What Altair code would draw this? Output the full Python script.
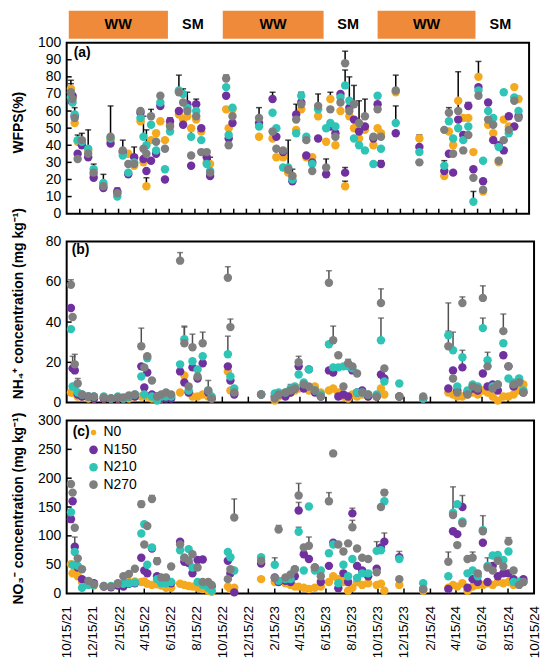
import altair as alt
import pandas as pd

FONT = "Liberation Sans"

dates = ["2021-10-25","2021-10-29","2021-11-03","2021-11-10","2021-11-20","2021-12-05","2021-12-18",
         "2022-01-10","2022-01-27","2022-02-12","2022-02-25","2022-03-10","2022-03-24","2022-04-08",
         "2022-04-15","2022-04-22","2022-05-03","2022-05-15","2022-05-25","2022-06-05","2022-06-17",
         "2022-07-08","2022-07-18","2022-07-28","2022-08-06","2022-08-18","2022-08-30","2022-09-12",
         "2022-09-20","2022-10-28","2022-11-03","2022-11-12","2023-01-14","2023-02-15","2023-02-24",
         "2023-03-12","2023-03-24","2023-04-03","2023-04-12","2023-04-24","2023-05-06","2023-05-20",
         "2023-06-03","2023-06-22","2023-07-02","2023-07-14","2023-07-26","2023-08-06","2023-08-16",
         "2023-08-27","2023-09-08","2023-09-22","2023-10-12","2023-10-22","2023-10-30","2023-12-04",
         "2024-01-29","2024-03-28","2024-04-08","2024-04-18","2024-04-30","2024-05-12","2024-05-24",
         "2024-06-05","2024-06-17","2024-06-28","2024-07-10","2024-07-22","2024-08-04","2024-08-16",
         "2024-08-28","2024-09-10","2024-09-20"]

names = ["N0", "N150", "N210", "N270"]
colors = ["#F5A91E", "#7030A0", "#2EC4B6", "#7F7F7F"]

# ---- (a) WFPS (%) ----
a_n0 = [73,68,53,42,41,37,23, 17,43,12,36,35,28,54, 30,16,43,47,54,43,52, 58,55,57,50,55,48,30,
        29,61,50,61,45,44,33, 33,24,22,49,61,33,33, 57,42,67,40,60,16,57, 50,44,49,40,50,47,71,
        44,22,48,40,66,56,56, 36,80,13,52,47,30,55, 51,74,67]
a_n150 = [66,69,57,35,40,33,21, 15,41,13,36,23,33,59, 32,25,31,35,63,20,54, 60,52,64,28,64,50,33,
          22,69,44,53,53,67,45, 36,26,19,58,65,34,30, 44,23,51,47,70,24,62, 55,48,51,44,64,29,47,
          39,25,35,24,55,46,63, 26,74,19,65,43,40,37, 57,51,57]
a_n210 = [68,65,58,43,42,38,26, 18,44,10,34,24,30,56, 45,40,52,37,65,26,48, 72,70,62,45,60,43,29,
          25,74,46,62,51,59,50, 27,27,20,47,69,45,29, 61,50,53,51,68,75,66, 44,40,37,29,69,38,53,
          36,28,54,44,50,43,51, 7,72,31,60,56,39,71, 47,68,60]
a_n270 = [71,67,56,32,43,35,24, 16,45,12,37,29,29,60, 38,35,57,42,69,38,51, 71,65,60,34,57,36,36,
          24,79,40,57,56,48,38, 37,26,22,55,64,43,25, 63,27,61,45,65,88,60, 64,53,57,45,61,45,72,
          30,49,59,35,60,37,46, 21,69,14,55,52,31,43, 49,66,56]
a_e0 = [3,0,0,0,0,0,0, 0,0,0,0,0,0,0, 0,5,0,0,0,0,0, 0,0,0,0,0,0,3, 4,0,0,0,0,0,0, 0,19,0,0,0,0,0,
        0,0,4,0,0,3,0, 0,0,0,0,0,0,0, 2,0,0,0,0,0,0, 0,9,0,0,0,0,0, 0,0,0]
a_e150 = [0,0,0,0,0,0,0, 0,0,2,0,0,6,0, 0,0,0,0,0,0,0, 0,0,7,0,3,0,0, 0,0,0,0,0,4,0, 0,0,0,6,0,0,0,
          0,0,0,0,0,3,0, 0,0,0,0,0,2,0, 0,0,0,0,0,0,2, 0,0,0,0,0,0,0, 0,0,0]
a_e210 = [0,0,4,3,0,11,3, 0,0,0,0,0,0,0, 12,0,0,0,0,0,0, 9,3,0,5,0,0,0, 0,0,0,0,0,0,0, 0,0,0,0,2,0,0,
          0,0,0,0,0,9,14, 0,0,0,0,0,0,10, 0,3,0,0,0,0,0, 6,0,0,0,0,0,0, 0,0,0]
a_e270 = [7,0,0,0,4,0,0, 7,18,0,6,0,0,0, 0,14,4,0,0,0,5, 0,0,0,0,0,0,0, 0,2,0,3,6,0,0, 0,0,4,0,0,0,0,
          7,5,0,0,0,7,0, 11,13,10,0,0,0,9, 0,0,3,0,23,0,0, 0,0,0,0,0,0,0, 0,0,0]

# ---- (b) NH4+ (mg/kg) ----
b_n0 = [5,5,5,3,3,2,2, 2,2,2,2,2,3,3, 4,3,2,2,2,3,3, 5,13.5,5,3,3,4,3, 2,15.5,6,5,4,1,3,
        4,5,6,7,9,6,8, 5,6,7,5,3,2,4, 3,4,3,3,7,4,3, 2,5,4,3,3,4,5, 4,6,5,3,1,3,3, 4,6,9]
b_n150 = [47,17,16,4,3,3,2, 2,2,2,2,3,3,18, 7.5,15,4,3,2,2,2, 15.5,10,5,17.5,12,19.5,5, 2,18,11,4,4,3,4,
          3,5,7,18,7,16.5,5, 3,16,15,3,4,3,16, 5,6,3,3,14,12,3, 2,7,16,6,17.5,5,7, 6,14.5,8,9,6,23.5,18, 8,11,5]
b_n210 = [36.5,8,8,5,4,3,3, 3,2,3,2,3,4,13, 4,22,3,1,3,3,3, 19,31.5,6,20.5,16.5,23,6, 3,24,13,7,4,4.5,5,
          5,7,8,14,10,16.5,6, 4,29,17.5,17.5,18,18,17, 5,5,4,4,31,10.5,9.5, 2,33.5,26,8,22.5,6,9,
          8,37,21,8,9,29.5,12, 10,12,6]
b_n270 = [58.5,42.5,19,9.5,4,3,3, 2.5,2,2.5,2.5,3.5,4,28, 17.5,23,11,3,4,5,4, 70.5,29.5,8,27.5,13,29.5,6,
          2,62,37.5,5,4,2,4, 5,6,7,20,9,8,6, 3,59.5,31,23.5,8,19.5,18, 14.5,5,4,3,49.5,17,3,
          3,28,12,5,49.5,4,8, 7,52,18,7,9,35.5,18, 9,10,5]
b_e0 = [0,0,0,0,0,0,0, 0,0,0,0,0,0,0, 0,0,0,0,0,0,0, 0,0,0,0,0,0,0, 0,0,0,0,0,0,0, 0,0,0,0,0,0,0,
        0,0,0,0,0,0,0, 0,0,0,0,0,0,0, 0,0,0,0,0,0,0, 0,0,0,0,0,0,0, 0,0,0]
b_e150 = [0,6,0,0,0,0,0, 0,0,0,0,0,0,0, 0,0,0,0,0,0,0, 0,0,0,0,0,0,0, 0,0,0,0,0,0,0, 0,0,0,0,0,0,0,
          0,0,0,0,0,0,0, 0,0,0,0,0,0,0, 0,0,0,0,8.5,0,0, 0,0,0,0,0,0,0, 0,0,0]
b_e210 = [0,0,0,0,0,0,0, 0,0,0,0,0,0,0, 0,0,0,0,0,0,0, 0,6,0,0,0,0,0, 0,9,0,0,0,0,0, 0,0,0,0,0,0,0,
          0,0,0,0,0,0,0, 0,0,0,0,11,0,0, 0,2,9,0,0,0,0, 0,5,0,0,0,0,0, 0,0,0]
b_e270 = [2.5,0,5,2.5,0,0,0, 0,0,0,0,0,0,9, 0,0,0,0,0,0,0, 4,8.5,0,6.5,0,5.5,5, 0,5.5,4,0,0,0,0,
          0,3,0,3,0,0,0, 0,6,7,0,0,2,0, 0,0,0,0,7,0,0, 0,21.5,0,0,3,0,0, 0,6,7,0,0,8.5,0, 0,3,0]

# ---- (c) NO3- (mg/kg) ----
c_n0 = [51,35,40,30,20,18,14, 12,12,15,16,20,21,20, 21,17,15,16,14,10,10, 17,15,13,12,10,8,5,
        3,12,8,10,25,20,22, 18,15,12,12,10,8,10, 12,20,30,25,20,5,10, 20,15,18,15,17,5,15,
        5,10,15,12,18,5,12, 15,15,18,15,20,18,20, 15,18,20]
c_n150 = [129,160,81,45,25,20,18, 12,11,14,12,17,18,62, 40,35,78,30,22,25,18, 90,55,53,35,58,59,15,
          12,57,35,2,52,28,20, 22,20,30,144,68,60,45, 20,48,88,9,35,20,139, 48,40,30,43,80,90,63,
          8,8,108,103,150,10,25, 20,88,20,48,30,35,35, 25,20,25]
c_n210 = [141,50,72,48,10,15,15, 13,13,17,17,18,19,104, 120,50,80,25,18,18,20, 75,62,77,45,20,15,10,
          5,72,63,40,63,50,22, 25,25,42,107,40,151,40, 40,70,85,18,50,30,60, 27,35,35,74,75,160,60,
          18,30,140,155,125,35,40, 30,110,48,66,67,58,73, 20,20,20]
c_n270 = [190,175,114,61,42,22,16, 13,12,18,30,34,43,155, 85,117,164,56,28,28,47, 85,62,57,68,45,20,20,
          15,25,42,132,57,27,111, 28,33,42,170,80,83,45, 30,160,243,85,73,87,115, 78,62,60,37,150,175,25,
          8,55,136,84,122,60,62, 35,108,45,40,57,47,90, 40,15,20]
c_e0 = [0,0,0,0,0,0,0, 0,0,0,0,0,0,0, 0,0,0,0,0,0,0, 0,0,0,0,0,0,0, 0,0,0,0,0,0,0, 0,0,0,0,0,0,0,
        0,0,0,0,0,0,0, 0,0,0,0,0,0,0, 0,0,0,0,0,0,0, 0,0,0,0,0,0,0, 0,0,0]
c_e150 = [0,0,17,0,0,0,0, 0,0,0,0,0,0,0, 0,0,0,0,0,0,0, 3,0,0,0,0,0,0, 0,0,0,0,0,0,0, 0,0,0,14,0,0,0,
          0,0,0,0,0,0,9, 0,0,0,0,0,15,10, 0,0,0,0,20,0,0, 0,0,0,0,0,0,0, 0,0,0]
c_e210 = [0,0,0,0,0,0,0, 0,0,0,0,0,0,0, 0,0,0,0,0,0,0, 0,0,3,0,0,0,0, 0,0,0,0,2,12,0, 0,0,0,8,0,0,0,
          0,0,0,0,0,0,0, 0,0,0,16,0,0,0, 0,0,0,3,0,0,0, 0,0,14,0,0,0,0, 0,0,0]
c_e270 = [3,0,0,0,0,0,0, 0,0,0,0,0,0,5, 0,0,6,6,0,0,0, 0,0,0,0,0,0,0, 0,0,0,32,0,0,7, 0,0,0,21,0,15,0,
          0,15,0,0,0,0,12, 0,0,0,0,0,5,0, 0,17,49,0,0,0,10, 0,27,0,0,0,0,7, 0,0,0]

# ---- crop season band ----
ww_start = ["2021-10-20", "2022-10-20", "2023-10-22"]
ww_end = ["2022-06-12", "2023-06-16", "2024-06-10"]
sm_date = ["2022-08-10", "2023-08-13", "2024-08-08"]

label_dates = [f"{y}-{m:02d}-15" for y in (2021, 2022, 2023, 2024) for m in (2, 4, 6, 8, 10, 12)
               if "2021-10-15" <= f"{y}-{m:02d}-15" <= "2024-10-15"]
month_ticks = [f"{y}-{m:02d}-15" for y in (2021, 2022, 2023, 2024) for m in range(1, 13)
               if "2021-10-15" < f"{y}-{m:02d}-15" < "2024-10-15"]
bimonth_ticks = [d for d in label_dates if "2021-10-15" < d < "2024-10-15"]


def frames(vals, errs):
    pts, ers = [], []
    for name, vs, es in zip(names, vals, errs):
        for d, v, e in zip(dates, vs, es):
            if v is None:
                continue
            pts.append({"date": d, "trt": name, "val": v})
            if e:
                ers.append({"date": d, "trt": name, "val": v, "hi": v + e})
    return pd.DataFrame(pts), pd.DataFrame(ers)


def dt(s):
    y, m, d = map(int, s.split("-"))
    return alt.DateTime(year=y, month=m, date=d, utc=True)


xscale = alt.Scale(type="utc", domain=[dt("2021-10-15"), dt("2024-10-15")])


def panel(vals, errs, w, h, ymax, yvals, title, title_y, xticks, xtick_len,
          err_color, label, lx, ly, xaxis):
    pts, ers = frames(vals, errs)
    yscale = alt.Scale(domain=[0, ymax], nice=False)
    yaxis = alt.Axis(values=yvals, title=title, titleX=-48, titleY=title_y,
                     titleBaseline="middle", titleFontSize=14, titleFontWeight="bold",
                     titleColor="black", titleFont=FONT, labelFont=FONT,
                     labelFontSize=14, labelColor="black", labelPadding=6,
                     ticks=False, tickSize=0, domain=False, grid=False, labelOverlap=False)

    def X(f):
        return alt.X(f"{f}:T", scale=xscale, axis=xaxis)

    def Y(f):
        return alt.Y(f"{f}:Q", scale=yscale, axis=yaxis)

    inner_y = [v for v in yvals if 0 < v < ymax]
    layers = [
        alt.Chart(pd.DataFrame({"d": xticks})).mark_rule(color="black", strokeWidth=1.5).encode(
            x=X("d"), y=alt.value(h), y2=alt.value(h - xtick_len)),
        alt.Chart(pd.DataFrame({"v": inner_y})).mark_rule(color="black", strokeWidth=1.5).encode(
            y=Y("v"), x=alt.value(0), x2=alt.value(5)),
        alt.Chart(ers).mark_rule(color=err_color, strokeWidth=1.5).encode(
            x=X("date"), y=Y("val"), y2=alt.Y2("hi:Q")),
        alt.Chart(ers).mark_tick(color=err_color, thickness=1.5, size=6, orient="horizontal").encode(
            x=X("date"), y=Y("hi")),
        alt.Chart(pts).mark_circle(size=72, opacity=1).encode(
            x=X("date"), y=Y("val"),
            color=alt.Color("trt:N", scale=alt.Scale(domain=names, range=colors), legend=None)),
        alt.Chart(pd.DataFrame({"t": [label]})).mark_text(
            align="left", baseline="middle", fontSize=14, fontWeight="bold", font=FONT, color="black"
        ).encode(text="t:N", x=alt.value(lx), y=alt.value(ly)),
    ]
    return layers, X


# Panel (a)
la, Xa = panel([a_n0, a_n150, a_n210, a_n270], [a_e0, a_e150, a_e210, a_e270],
               465, 172, 100, list(range(0, 101, 10)), "WFPS(%)", 80,
               month_ticks, 5, "#000000", "(a)", 7, 10, None)
band = pd.DataFrame({"s": ww_start, "e": ww_end})
band["mid"] = (pd.to_datetime(band["s"]) + (pd.to_datetime(band["e"]) - pd.to_datetime(band["s"])) / 2).dt.strftime("%Y-%m-%d")
la += [
    alt.Chart(band).mark_rect(color="#EF8A3A").encode(
        x=Xa("s"), x2=alt.X2("e:T"), y=alt.value(-32), y2=alt.value(-4)),
    alt.Chart(band).mark_text(text="WW", fontSize=14.5, fontWeight="bold", font=FONT,
                              color="black", baseline="middle").encode(x=Xa("mid"), y=alt.value(-18)),
    alt.Chart(pd.DataFrame({"m": sm_date})).mark_text(text="SM", fontSize=14.5, fontWeight="bold",
                                                      font=FONT, color="black", baseline="middle").encode(
        x=Xa("m"), y=alt.value(-18)),
]
pa = alt.layer(*la).properties(width=465, height=172)

# Panel (b)
lb, _ = panel([b_n0, b_n150, b_n210, b_n270], [b_e0, b_e150, b_e210, b_e270],
              470, 162, 80, [0, 20, 40, 60, 80], "NH\u2084\u207a concentration (mg kg\u207b\u00b9)", 62,
              bimonth_ticks, 6, "#505050", "(b)", 5, 9, None)
pb = alt.layer(*lb).properties(width=470, height=162)

# Panel (c)
xaxis_c = alt.Axis(values=[dt(s) for s in label_dates],
                   labelExpr="utcFormat(datum.value, '%-m/%d/%y')",
                   labelAngle=270, labelAlign="right", labelBaseline="middle", labelFontSize=13.5,
                   labelFont=FONT, labelColor="black", labelPadding=12, ticks=False, tickSize=0,
                   domain=False, grid=False, labelOverlap=False, labelFlush=False, title=None)
lc, _ = panel([c_n0, c_n150, c_n210, c_n270], [c_e0, c_e150, c_e210, c_e270],
              470, 174, 300, list(range(0, 301, 50)), "NO\u2083\u207b concentration (mg kg\u207b\u00b9)", 88,
              bimonth_ticks, 5, "#505050", "(c)", 6, 12, xaxis_c)
for i, (n, c) in enumerate(zip(names, colors)):
    yy = 12 + 17.5 * i
    lc.append(alt.Chart(pd.DataFrame({"t": [n]})).mark_circle(
        size=30 if i == 0 else 75, opacity=1, color=c).encode(x=alt.value(27), y=alt.value(yy)))
    lc.append(alt.Chart(pd.DataFrame({"t": [n]})).mark_text(
        align="left", baseline="middle", fontSize=14, font=FONT, color="black").encode(
        text="t:N", x=alt.value(37), y=alt.value(yy)))
pc = alt.layer(*lc).properties(width=470, height=174)


def spacer(h):
    return alt.Chart(pd.DataFrame({"v": [0]})).mark_point(opacity=0).encode(
        x=alt.value(0), y=alt.value(0)).properties(
        width=470, height=h, view=alt.ViewBackground(stroke="transparent"))


chart = alt.vconcat(pa, spacer(28), pb, spacer(18), pc, spacing=0, bounds="flush").properties(
    padding={"left": 2, "top": 0, "right": 0, "bottom": 0}
).configure(
    font=FONT,
    view=alt.ViewConfig(stroke="black", strokeWidth=2),
)

chart.save("out.html", embed_options={"renderer": "svg", "actions": False})
